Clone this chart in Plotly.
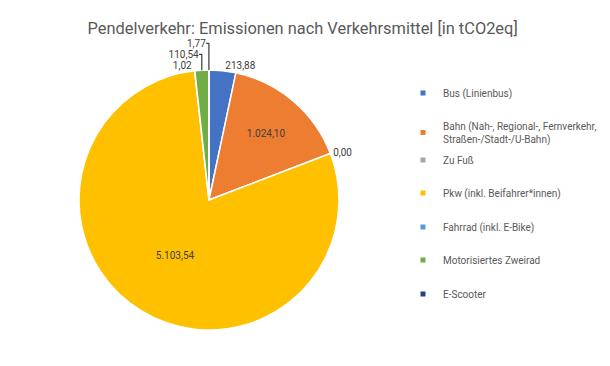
import plotly.graph_objects as go

categories = ["Bus (Linienbus)",
              "Bahn (Nah-, Regional-, Fernverkehr,<br>Straßen-/Stadt-/U-Bahn)",
              "Zu Fuß",
              "Pkw (inkl. Beifahrer*innen)",
              "Fahrrad (inkl. E-Bike)",
              "Motorisiertes Zweirad",
              "E-Scooter"]
values = [213.88, 1024.10, 0.00, 5103.54, 1.02, 110.54, 1.77]
colors = ["#4472C4", "#ED7D31", "#A5A5A5", "#FFC000", "#5B9BD5", "#70AD47", "#264478"]
text_positions = ["outside", "inside", "outside", "inside", "outside", "outside", "outside"]

W, H = 610, 366
FONT = "Roboto"
GREY = "#595959"

fig = go.Figure()
fig.add_trace(go.Pie(
    labels=categories, values=values, sort=False, direction="clockwise", rotation=0,
    marker=dict(colors=colors, line=dict(color="white", width=1.5)),
    texttemplate="%{value:,.2f}", textposition=text_positions,
    textfont=dict(family=FONT, size=10, color="#404040"),
    insidetextorientation="horizontal",
    showlegend=False, hoverinfo="label+value",
    domain=dict(x=[71 / W, 331 / W], y=[1 - 322 / H, 1 - 62 / H]),
))

legend_y = [85, 124.5, 152, 185, 219, 252, 286]
layout_legends = {}
for i, (cat, col, ly) in enumerate(zip(categories, colors, legend_y)):
    key = "legend" if i == 0 else f"legend{i + 1}"
    fig.add_trace(go.Scatter(x=[None], y=[None], mode="markers", name=cat,
                             marker=dict(symbol="square", size=5, color=col),
                             legend=key, showlegend=True, hoverinfo="skip"))
    layout_legends[key] = dict(x=395 / W, xanchor="left", y=1 - ly / H, yanchor="middle",
                               font=dict(family=FONT, size=10, color=GREY),
                               bgcolor="rgba(0,0,0,0)", itemwidth=30)

fig.update_layout(
    width=W, height=H,
    margin=dict(l=0, r=0, t=0, b=0),
    paper_bgcolor="white", plot_bgcolor="white",
    separators=",.",
    title=dict(text="Pendelverkehr: Emissionen nach Verkehrsmittel [in tCO2eq]",
               x=0.483, xanchor="center", y=1 - 20 / H, yanchor="middle", yref="container",
               font=dict(family=FONT, size=16.4, color=GREY)),
    xaxis=dict(visible=False), yaxis=dict(visible=False),
    **layout_legends,
)

fig.write_html("out.html")
